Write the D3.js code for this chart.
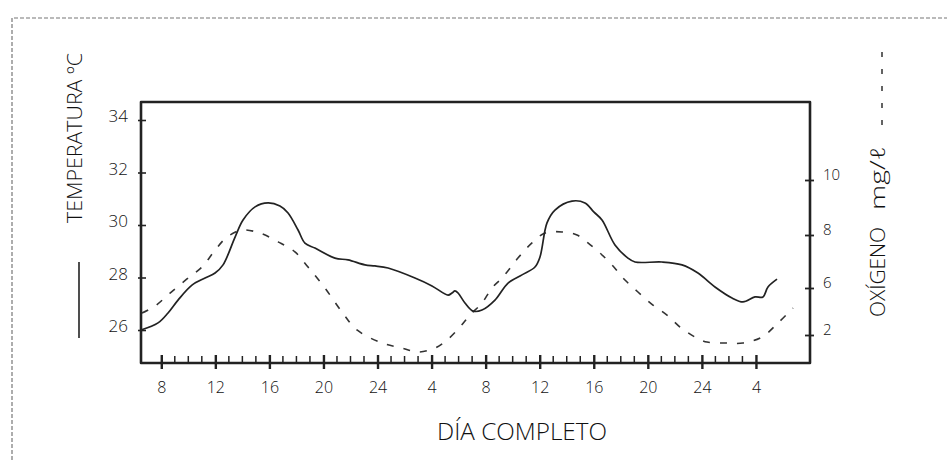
<!DOCTYPE html>
<html><head><meta charset="utf-8">
<script src="https://cdn.jsdelivr.net/npm/d3@7"></script>
<style>
html,body{margin:0;padding:0;background:#fff;}
svg{display:block;font-family:"Open Sans","DejaVu Sans",sans-serif;}
</style></head>
<body>
<svg id="c" width="947" height="460"></svg>
<script>
// ---- data (hours counted continuously from the first morning) ----
const tickHours = [8,12,16,20,24,28,32,36,40,44,48,52];
const tickLabels = ["8","12","16","20","24","4","8","12","16","20","24","4"];
const minorHours = d3.range(8,53);
const tempTicks = [26,28,30,32,34];
const oxyTicks = [2,6,8,10];

const tempHours = [6.5,7.76,8.5,9.24,10.27,11.24,11.98,12.57,13.46,14.05,14.94,15.9,16.78,17.38,18.12,18.63,19.37,20.85,21.82,23.07,23.81,24.78,26.77,28.03,29.22,29.51,29.73,29.96,30.47,31.07,31.73,32.69,33.66,34.69,35.65,36.02,36.54,37.13,38.39,39.35,40.0,40.61,41.57,42.53,43.05,45.05,46.53,47.71,48.97,50.23,51.04,51.93,52.52,52.89,53.56];
const tempValues = [26.0,26.27,26.65,27.14,27.71,27.98,28.17,28.48,29.54,30.19,30.69,30.84,30.72,30.46,29.81,29.31,29.12,28.74,28.67,28.48,28.44,28.36,27.98,27.68,27.33,27.41,27.49,27.41,27.03,26.72,26.76,27.14,27.79,28.1,28.4,28.78,30.08,30.57,30.91,30.84,30.5,30.19,29.24,28.74,28.59,28.59,28.48,28.17,27.64,27.22,27.07,27.26,27.26,27.64,27.94];

const oxyHours = [6.57,7.54,8.65,9.9,11.01,11.98,12.86,13.97,15.3,16.64,17.89,18.86,20.11,21.37,22.48,24.33,25.81,27.0,28.25,29.14,30.1,30.84,31.73,32.47,33.29,34.39,35.43,36.39,37.65,38.76,39.57,40.46,41.35,42.31,43.27,44.38,45.42,46.38,47.49,48.38,49.71,51.04,52.45,53.63,54.74];
const oxyValues = [3.87,4.47,5.57,6.34,6.79,7.43,7.92,8.18,8.07,7.74,7.36,6.79,6.0,3.96,2.43,1.32,0.89,0.55,0.89,1.57,2.68,3.7,4.72,6.0,6.42,7.13,7.7,8.07,8.11,8.0,7.7,7.32,6.87,6.3,5.66,4.55,3.7,2.68,1.83,1.4,1.32,1.32,1.83,3.02,4.3];

const temp = tempHours.map((h,i)=>({h, v: tempValues[i]}));
const oxy = oxyHours.map((h,i)=>({h, v: oxyValues[i]}));

// ---- layout ----
const L = 141, R = 810, T = 102, B = 363;
const ink = "#222";
const svg = d3.select("#c");

const x = d3.scaleLinear().domain([6.5,56]).range([L,R]);
const yT = d3.scaleLinear().domain([26,34]).range([330,120]);
// hand-drawn right axis: unevenly spaced graduations
const yO = d3.scaleLinear().domain([2,6,8,10]).range([335,288,235,180]);

// page border (dashed, as in the scan)
svg.append("path")
  .attr("d", `M12,460 L12,18 L947,18`)
  .attr("fill","none").attr("stroke","#777").attr("stroke-width",1.2)
  .attr("stroke-dasharray","4,2");

// plot frame
svg.append("path")
  .attr("d", `M${L},${B} L${L},${T} L${R},${T} L${R},${B} Z`)
  .attr("fill","none").attr("stroke",ink).attr("stroke-width",2.6)
  .attr("stroke-linejoin","round");

const lblFont = "'Open Sans',sans-serif";
// bottom axis ticks
const gx = svg.append("g");
gx.selectAll("line.minor").data(minorHours.filter(h=>!tickHours.includes(h))).join("line")
  .attr("x1",d=>x(d)).attr("x2",d=>x(d)).attr("y1",B).attr("y2",B-7)
  .attr("stroke",ink).attr("stroke-width",1.5);
const xAxis = d3.axisBottom(x).tickValues(tickHours).tickFormat((d,i)=>tickLabels[i]).tickSize(0).tickPadding(0);
const gxa = svg.append("g").attr("transform",`translate(0,${B})`).call(xAxis);
gxa.select(".domain").remove();
gxa.selectAll(".tick line").attr("y1",-8).attr("y2",6).attr("stroke",ink).attr("stroke-width",2.4);
gxa.selectAll(".tick text").attr("y",30).attr("dy",0).attr("font-size",16).attr("font-weight",300).attr("fill","#111").attr("font-family",lblFont);

// left axis
const ylAxis = d3.axisLeft(yT).tickValues(tempTicks).tickSize(0).tickPadding(0);
const gyl = svg.append("g").attr("transform",`translate(${L},0)`).call(ylAxis);
gyl.select(".domain").remove();
gyl.selectAll(".tick line").attr("x1",-3).attr("x2",5).attr("stroke",ink).attr("stroke-width",1.6);
gyl.selectAll(".tick text").attr("x",-13).attr("dy","0.1em").attr("font-size",17).attr("font-weight",300).attr("fill","#111").attr("font-family",lblFont);

// right axis
const yrAxis = d3.axisRight(yO).tickValues(oxyTicks).tickSize(0).tickPadding(0);
const gyr = svg.append("g").attr("transform",`translate(${R},0)`).call(yrAxis);
gyr.select(".domain").remove();
gyr.selectAll(".tick line").attr("x1",-5).attr("x2",4).attr("stroke",ink).attr("stroke-width",1.8);
gyr.selectAll(".tick text").attr("x",13).attr("dy","-0.05em").attr("font-size",15).attr("font-weight",300).attr("fill","#111").attr("font-family",lblFont);

// curves
const lineT = d3.line().x(d=>x(d.h)).y(d=>yT(d.v)).curve(d3.curveCatmullRom.alpha(0.5));
const lineO = d3.line().x(d=>x(d.h)).y(d=>yO(d.v)).curve(d3.curveCatmullRom.alpha(0.5));

svg.append("path").datum(oxy).attr("d",lineO)
  .attr("fill","none").attr("stroke","#333").attr("stroke-width",1.6)
  .attr("stroke-dasharray","7,10");
svg.append("path").datum(temp).attr("d",lineT)
  .attr("fill","none").attr("stroke","#222").attr("stroke-width",1.7)
  .attr("stroke-linejoin","round");

// titles
svg.append("text").attr("transform","translate(82,223) rotate(-90)")
  .attr("text-anchor","start").attr("font-size",20).attr("font-weight",300).attr("fill","#111")
  .attr("textLength",170).attr("lengthAdjust","spacingAndGlyphs")
  .text("TEMPERATURA ºC");
// legend sample for temperature (solid)
svg.append("line").attr("x1",79).attr("x2",79).attr("y1",262).attr("y2",338)
  .attr("stroke",ink).attr("stroke-width",1.6);

svg.append("text").attr("transform","translate(885,317) rotate(-90)")
  .attr("text-anchor","start").attr("font-size",20).attr("font-weight",300).attr("fill","#111")
  .attr("textLength",90).attr("lengthAdjust","spacingAndGlyphs")
  .text("OXÍGENO");
svg.append("text").attr("transform","translate(885,210) rotate(-90)")
  .attr("text-anchor","start").attr("font-size",20).attr("font-weight",300).attr("fill","#111")
  .attr("textLength",64).attr("lengthAdjust","spacingAndGlyphs")
  .text("mg/ℓ");
// legend sample for oxygen (dashed)
svg.append("line").attr("x1",882).attr("x2",882).attr("y1",125).attr("y2",48)
  .attr("stroke",ink).attr("stroke-width",1.4).attr("stroke-dasharray","5,12");

svg.append("text").attr("x",437).attr("y",440)
  .attr("font-size",24).attr("font-weight",300).attr("fill","#111")
  .attr("textLength",170).attr("lengthAdjust","spacingAndGlyphs")
  .text("DÍA  COMPLETO");
</script>
</body></html>
